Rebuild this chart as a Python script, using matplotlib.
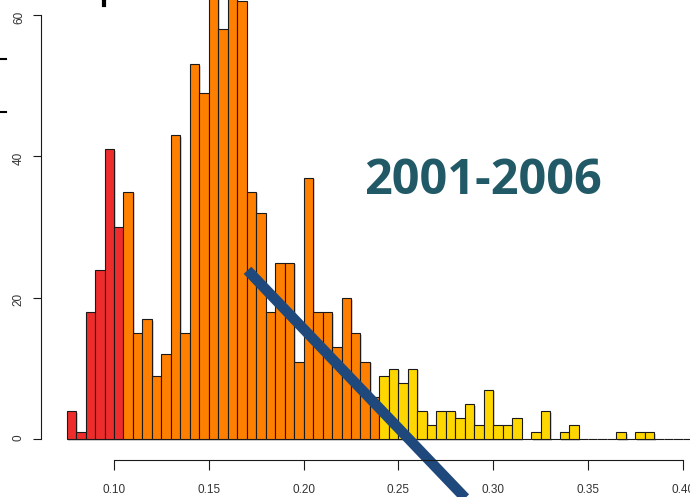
import matplotlib
matplotlib.use("Agg")
import matplotlib.pyplot as plt
import matplotlib.patheffects as pe
from matplotlib.lines import Line2D
import numpy as np

# ── Histogram data: bins of width 0.005 starting at 0.075 ───────────
BIN_START = 0.075
BIN_WIDTH = 0.005
counts = [4, 1, 18, 24, 41, 30,                 # 0.075 - 0.105
          35, 15, 17, 9, 12, 43, 15, 53, 49, 66,  # 0.105 - 0.155
          58, 64, 62, 35, 32, 18, 25, 25, 11, 37,  # 0.155 - 0.205
          18, 18, 13, 20, 15, 11, 6,               # 0.205 - 0.240
          9, 10, 8, 10, 4, 2, 4, 4, 3, 5,          # 0.240 - 0.290
          2, 7, 2, 2, 3, 0, 1, 4, 0, 1,            # 0.290 - 0.340
          2, 0, 0, 0, 0, 1, 0, 1, 1, 0, 0, 0, 0, 0]  # 0.340 - 0.410
RED_UPTO = 0.105
YELLOW_FROM = 0.240

y_ticks = [0, 20, 40, 60]
x_ticks = [0.10, 0.15, 0.20, 0.25, 0.30, 0.35, 0.40]
x_tick_labels = ["0.10", "0.15", "0.20", "0.25", "0.30", "0.35", "0.40"]
period_label = "2001-2006"

RED = "#ee2c2c"
ORANGE = "#ff7f00"
YELLOW = "#ffd700"

lefts = BIN_START + BIN_WIDTH * np.arange(len(counts))
colors = [RED if l < RED_UPTO - 1e-9 else (YELLOW if l >= YELLOW_FROM - 1e-9 else ORANGE)
          for l in lefts]

fig = plt.figure(figsize=(6.9, 4.97), dpi=100)
ax = fig.add_axes([0, 0, 1, 1])
ax.set_facecolor("none")
ax.set_xlim(0.03987, 0.40380)
ax.set_ylim(-8.16, 62.12)

shadow = [pe.SimplePatchShadow(offset=(1.2, -1.2), shadow_rgbFace="#888888", alpha=0.35),
          pe.Normal()]
ax.bar(lefts, counts, width=BIN_WIDTH, align="edge", color=colors,
       edgecolor="#1a1a1a", linewidth=0.8, path_effects=shadow)

# R-style detached axes
for side in ["top", "right"]:
    ax.spines[side].set_visible(False)
ax.spines["left"].set_position(("data", 0.0615))
ax.spines["left"].set_bounds(0, 60)
ax.spines["bottom"].set_position(("data", -2.97))
ax.spines["bottom"].set_bounds(0.10, 0.40)
for side in ["left", "bottom"]:
    ax.spines[side].set_linewidth(0.8)
    ax.spines[side].set_color("#1a1a1a")

ax.set_yticks(y_ticks)
ax.set_xticks(x_ticks)
ax.set_xticklabels(x_tick_labels)
ax.tick_params(axis="y", length=5.8, width=0.8, pad=5.8, labelrotation=90,
               labelsize=8.5, labelcolor="#333333", color="#1a1a1a")
ax.tick_params(axis="x", length=7.2, width=0.8, pad=9.6,
               labelsize=8.5, labelcolor="#333333", color="#1a1a1a")
for lab in ax.get_xticklabels() + ax.get_yticklabels():
    lab.set_fontfamily("Liberation Sans")

# Period label
ax.text(0.7, 0.634, period_label, transform=ax.transAxes, ha="center", va="center",
        fontsize=35, fontweight="bold", color="#215967", family="Open Sans")

# Diagonal annotation stroke
x0, y0 = 247.5 / 690, 1 - 270.3 / 497
x1, y1 = 470.0 / 690, 1 - 503.0 / 497
ax.add_line(Line2D([x0, x1], [y0, y1], transform=ax.transAxes, color="#1f497d",
                   linewidth=7.5, solid_capstyle="butt", clip_on=False,
                   path_effects=[pe.SimpleLineShadow(offset=(1.5, -1.5), shadow_color="#777777",
                                                     alpha=0.4),
                                 pe.Normal()]))

# Fragments of slide text at the left/top edge
for yy in [59, 112]:
    fig.add_artist(Line2D([0, 6 / 690], [1 - yy / 497] * 2, transform=fig.transFigure,
                          color="black", linewidth=1.5))
fig.add_artist(Line2D([103.8 / 690] * 2, [1, 1 - 5 / 497], transform=fig.transFigure,
                      color="black", linewidth=3))

fig.savefig("out.png", dpi=100)
